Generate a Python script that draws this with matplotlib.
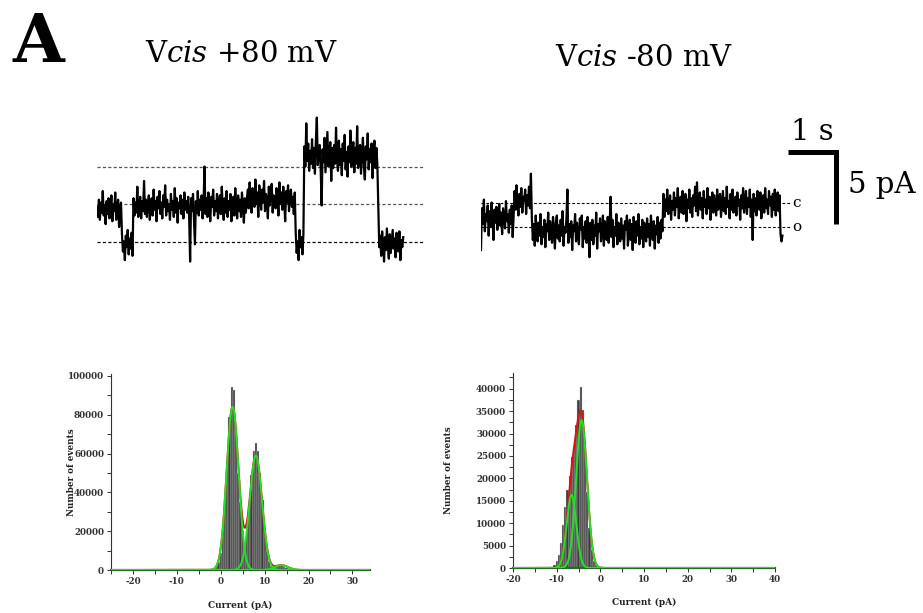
import numpy as np
import matplotlib
matplotlib.use("Agg")
import matplotlib.pyplot as plt
from matplotlib.ticker import MultipleLocator, FuncFormatter

plt.rcParams["font.family"] = "DejaVu Serif"
plt.rcParams["mathtext.fontset"] = "dejavuserif"

# ---- single channel traces (pA), sampled every DT seconds ----
DT = 0.02

TRACE_POS = [
    -0.2, -0.9, 0.3, -1.1, 0.1, -0.6, 0.9, -0.8, -0.1, -1.4,
    0.2, -0.7, 0.4, -1.0, -0.3, 0.6, -1.2, 0.0, -0.5, 0.8,
    -1.1, -0.2, 0.3, -1.6, -0.4, 0.1,
    -2.1, -3.3, -2.6, -3.9, -2.2, -3.0, -1.8, -3.5, -2.4, -3.1, -2.0, -3.6,
    0.4, -0.8, 0.1, -0.6, 1.2, -0.9, -0.1, 0.5, -1.0, 0.2,
    -0.5, 1.6, -0.7, 0.3, -0.9, 0.0, 0.6, -1.1, -0.2, 0.4,
    -0.8, 1.0, -0.4, 0.2, -1.2, 0.5, -0.3, 0.9, -0.7, 0.1,
    -1.0, 0.6, -0.2, 1.3, -0.8, 0.3, -0.5, 0.0, -1.1, 0.7,
    -0.4, 0.2, -0.9, 1.1, -0.6, 0.4, -1.3, 0.1, -0.3, 0.6,
    -0.7, 0.3, -1.0, 0.8, -0.4, 0.2, -0.6, 0.5, -0.9, -4.0,
    0.4, -0.5, 0.7, -1.1, -2.8, 0.2, -0.6, 0.9, -0.8, 0.3,
    -0.4, 0.6, -1.0, 0.1, 2.6, -0.7, 0.4, -0.9, 0.8, -0.3,
    -1.2, 0.5, -0.2, 1.0, -0.8, 0.2, -0.5, 0.7, -1.0, 0.0,
    0.6, -0.7, 1.2, -0.3, -1.1, 0.4, -0.6, 0.9, -0.9, 0.2,
    -0.4, 0.7, -1.2, 0.1, 0.5, -0.8, 1.1, -0.2, -1.0, 0.6,
    -0.5, 0.3, -0.9, 0.8, -0.1, -1.3, 0.4, -0.6, 0.2,
    1.0, -0.3, 1.5, 0.2, -0.6, 1.1, 0.4, -0.2, 1.7, 0.0,
    0.8, -0.9, 1.3, 0.5, -0.4, 1.0, 0.1, 1.6, -0.5, 0.7,
    0.3, -1.0, 1.2, -0.1, 0.9, 1.4, -0.6, 0.6, 0.2, -0.3,
    1.1, 0.4, -0.8, 1.5, 0.0, 0.8, -0.4, 1.2, 0.3, -1.2,
    0.9, 0.1, 1.3, -0.5, 0.6, 1.0, -0.2, 0.5, -0.7, 0.8,
    -2.0, -3.4, -2.6, -3.9, -1.8, -3.0, -2.3, -3.5, -2.1,
    4.0, 2.6, 5.6, 3.0, 4.2, 2.3, 3.7, 2.8, 4.5, 2.5,
    3.9, 2.1, 4.4, 6.0, 2.7, 3.5, 4.1, 2.4, -0.1, 3.8,
    2.9, 4.6, 2.2, 3.6, 5.0, 2.6, 3.3, 4.3, 1.6, 3.9,
    2.5, 4.1, 2.8, 5.3, 3.1, 2.3, 4.4, 2.7, 3.8, 2.0,
    4.2, 3.0, 4.8, 2.4, 3.6, 1.9, 4.0, 2.9, 5.1, 2.6,
    3.4, 4.3, 2.2, 3.9, 2.8, 5.4, 2.5, 3.7, 4.1, 2.1,
    3.5, 4.6, 2.7, 1.7, 4.0, 3.1, 4.9, 2.4, 3.8, 2.9,
    4.2, 1.8, 3.6, 4.4, 2.5, 3.9, 2.8,
    -0.2, -3.0, -2.2, -3.6, -1.9, -2.8, -4.0, -2.3, -3.2, -1.7,
    -2.9, -3.8, -2.1, -3.4, -2.6, -1.8, -3.1, -2.4, -3.7, -2.0,
    -2.7, -3.3, -1.9, -3.9, -2.5, -3.0, -2.3,
]
LEVELS_POS = [2.57, 0.0, -2.64]

TRACE_NEG = [
    -1.6, 1.3, 0.2, 1.9, -0.3, 0.9, 0.4, 1.5, -0.6, 1.1,
    0.0, 1.7, 0.5, -0.9, 1.2, 0.3, 1.4, -0.2, 0.8, 1.6,
    0.1, 1.0, -0.5, 1.3, 0.6, -0.1, 1.8, 0.4, 0.9, -0.4,
    1.2, 0.2, 1.5, -0.7, 0.8,
    2.5, 1.2, 2.9, 1.6, 0.8, 2.3, 1.4, 2.7, 1.0, 2.1,
    1.8, 2.6, 0.9, 2.2, 1.5, 2.8, 1.3, 3.7,
    0.6, -0.9, 0.2, -1.3, 0.8, -0.4, -1.0, 0.3, -0.6, 0.9,
    -1.2, 0.0, -0.7, 0.5, -1.4, 0.2, -0.3, 1.0, -0.9, 0.4,
    -0.5, -1.1, 0.7, -0.2, -1.5, 0.3, 0.8, -0.8, 0.1, -1.0,
    0.5, -0.6, 1.1, -1.3, 0.0, -0.4, 0.6, 2.6, -1.1, 0.2,
    -0.7, 0.4, -1.6, 0.1, -0.3, 0.9, -1.0, 0.3, -0.5, -1.2,
    0.6, -0.2, 0.8, -1.4, 0.0, -0.8, 0.4, -1.1, 0.7, -0.4,
    -2.1, 0.3, -0.9, 0.5, -1.2, 0.1, -0.6, 1.0, -1.5, 0.2,
    -0.3, 0.6, -1.0, -0.5, 0.8, -1.3, 0.4, -0.1, -0.9, 0.7,
    -1.1, 0.2, 2.1, -0.7, 0.5, -1.4, 0.0, -0.6, 0.9, -1.2,
    0.3, -0.4, -1.0, 0.6, -0.8, 0.1, -1.5, 0.4, -0.2, 0.8,
    -1.3, -0.5, 0.5, -0.9, 0.2, -1.6, 0.7, -0.3, -1.1, 0.4,
    -0.6, 0.9, -1.2, 0.0, -0.8, 0.5, -1.4, 0.3, -0.4, -1.0,
    0.6, -0.7, 0.2, -1.3, 0.8, -0.2, -0.9, 0.4, -1.5, 0.1,
    -0.5, 0.7, -1.1, 0.3, -0.8, 0.5, -0.3,
    2.3, 0.7, 1.9, 1.1, 2.6, 0.9, 1.6, 2.2, 0.5, 1.8,
    1.2, 2.4, 0.8, 2.0, 1.4, 2.7, 0.6, 1.7, 2.1, 1.0,
    2.5, 0.9, 1.5, 2.3, 0.4, 1.9, 1.3, 2.6, 1.0, 2.0,
    0.7, 2.2, 1.5, 2.8, 1.1, 3.1, 0.8, 1.8, 2.4, 1.2,
    2.0, 0.6, 2.5, 1.4, 1.9, 0.9, 2.7, 1.3, 2.1, 0.5,
    1.7, 2.4, 1.0, 2.2, 1.5, 0.8, 2.6, 1.2, 1.9, 2.3,
    0.7, 1.6, 2.5, 1.1, 2.0, 0.9, 2.8, 1.4, 1.8, 0.6,
    2.3, 1.2, 2.6, 1.0, 1.7, 2.1, 0.8, 2.4, 1.5, 1.9,
    0.5, 2.2, 1.3, 2.7, 1.0, 1.8, 2.5, 0.9, 2.0, 1.4,
    2.6, 0.7, 1.9, -0.9, 2.3, 1.1, 2.0, 0.8, 2.5, 1.6,
    1.2, 2.4, 0.6, 1.8, 2.2, 1.0, 2.7, 1.3, 1.9, 0.9,
    2.5, 1.5, 2.1, 0.7, 2.3, 1.2, 2.6, 0.8, 1.9, 2.4,
    1.1, 2.2,
    -0.5, -1.0, -0.6,
]
LEVELS_NEG = [1.67, 0.0]
LEVEL_NAMES_NEG = ["c", "o"]

SCALE_T = 1.0   # s
SCALE_I = 5.0   # pA

# ---- all-points histograms (bin centre pA, counts) ----
BIN_W = 0.5

POS_BINS = [-1.5, -1.0, -0.5, 0.0, 0.5, 1.0, 1.5, 2.0, 2.5, 3.0, 3.5, 4.0, 4.5,
            5.0, 5.5, 6.0, 6.5, 7.0, 7.5, 8.0, 8.5, 9.0, 9.5, 10.0, 10.5, 11.0,
            11.5, 12.0, 12.5, 13.0, 13.5, 14.0, 14.5, 15.0, 15.5, 16.0]
POS_COUNTS = [300, 1500, 4000, 9000, 20000, 38000, 56000, 79000, 94500, 93000,
              73000, 50000, 35000, 20000, 14000, 24000, 34000, 49000, 61500,
              65500, 61500, 50000, 36000, 20000, 10000, 4500, 2000, 1500, 2000,
              2500, 2800, 2500, 1800, 1000, 500, 300]
# gaussian fits: (mean, amplitude, sigma)
POS_FITS = [(2.7, 84200, 1.35), (8.0, 59000, 1.4), (13.8, 2500, 1.5)]

NEG_BINS = [-11.5, -11.0, -10.5, -10.0, -9.5, -9.0, -8.5, -8.0, -7.5, -7.0,
            -6.5, -6.0, -5.5, -5.0, -4.5, -4.0, -3.5, -3.0, -2.5, -2.0, -1.5,
            -1.0, -0.5, 0.0, 0.5, 1.0, 1.5]
NEG_COUNTS = [150, 300, 700, 1500, 3000, 5500, 9500, 13500, 17500, 20500,
              24800, 27000, 32000, 37500, 40300, 35200, 28000, 17000, 9000,
              4000, 1600, 600, 300, 200, 150, 100, 80]
NEG_FITS = [(-6.6, 16300, 1.1), (-4.3, 33000, 1.25)]

W, H = 923, 613
fig = plt.figure(figsize=(W / 100, H / 100), dpi=100)


def box(x0, y_top, w, h):
    return [x0 / W, 1 - (y_top + h) / H, w / W, h / H]


def gauss(x, m, a, s):
    return a * np.exp(-0.5 * ((x - m) / s) ** 2)


# header texts
fig.text(13 / W, 1 - 62 / H, "A", fontsize=48, fontweight="bold", va="baseline")
fig.text(241 / W, 1 - 62 / H, r"V$\mathit{cis}$ +80 mV", fontsize=21,
         ha="center", va="baseline")
fig.text(644 / W, 1 - 66 / H, r"V$\mathit{cis}$ -80 mV", fontsize=21,
         ha="center", va="baseline")

# trace +80 mV : 1 s = 48 px, 1 pA = 14.4 px
ax1 = fig.add_axes(box(97, 100, 327, 190))
t1 = np.arange(len(TRACE_POS)) * DT
ax1.plot(t1, TRACE_POS, color="black", lw=1.6)
for lv, c in zip(LEVELS_POS, ["#555555", "#555555", "black"]):
    ax1.plot([0, 327 / 48], [lv, lv], color=c, lw=0.9, dashes=(2.5, 1.8),
             zorder=1)
ax1.set_xlim(0, 327 / 48)
ax1.set_ylim(-86 / 14.4, 104 / 14.4)
ax1.axis("off")

# trace -80 mV
ax2 = fig.add_axes(box(481, 100, 440, 190))
t2 = np.arange(len(TRACE_NEG)) * DT
ax2.plot(t2, TRACE_NEG, color="black", lw=1.6)
for lv, name in zip(LEVELS_NEG, LEVEL_NAMES_NEG):
    ax2.plot([0, 309 / 48], [lv, lv], color="black", lw=0.8, dashes=(2.5, 1.8),
             zorder=1)
    ax2.text(311 / 48, lv, name, fontsize=11, ha="left", va="center")
ax2.set_xlim(0, 440 / 48)
ax2.set_ylim(-63 / 14.4, 127 / 14.4)
ax2.axis("off")

# scale bar
sb_x = 307 / 48
sb_y = 75 / 14.4
ax2.plot([sb_x, sb_x + SCALE_T, sb_x + SCALE_T],
         [sb_y, sb_y, sb_y - SCALE_I], color="black", lw=3.6,
         solid_joinstyle="miter", solid_capstyle="butt")
ax2.text(sb_x + SCALE_T / 2, sb_y + 0.45, f"{SCALE_T:g} s", fontsize=21,
         ha="center", va="bottom")
ax2.text(sb_x + SCALE_T + 0.25, sb_y - SCALE_I / 2 + 0.2, f"{SCALE_I:g} pA",
         fontsize=21, ha="left", va="center")


def histogram(ax, bins, counts, fits, xlim, ylim, xstep, ymaj, ymin, lab_x, ylab_x):
    ax.bar(bins, counts, width=BIN_W, color="#3c3c3c", edgecolor="#d0d0d0",
           lw=0.3, zorder=2)
    x = np.linspace(xlim[0], xlim[1], 1200)
    total = sum(gauss(x, *f) for f in fits)
    ax.plot(x, total, color="#e01010", lw=1.4, zorder=3)
    for f in fits:
        ax.plot(x, gauss(x, *f), color="#22e022", lw=1.4, zorder=4)
    ax.set_xlim(*xlim)
    ax.set_ylim(*ylim)
    ax.xaxis.set_major_locator(MultipleLocator(xstep))
    ax.xaxis.set_major_formatter(FuncFormatter(
        lambda v, p: f"{v:.0f}" if round(v) % 10 == 0 else ""))
    ax.yaxis.set_major_locator(MultipleLocator(ymaj))
    ax.yaxis.set_minor_locator(MultipleLocator(ymin))
    ax.yaxis.set_major_formatter(FuncFormatter(lambda v, p: f"{v:.0f}"))
    for s in ["top", "right"]:
        ax.spines[s].set_visible(False)
    ax.spines["left"].set_color("#333333")
    ax.spines["bottom"].set_color("#1f6f1f")
    ax.spines["left"].set_linewidth(0.8)
    ax.spines["bottom"].set_linewidth(1.6)
    ax.tick_params(axis="both", which="both", direction="out", length=3,
                   width=0.7, color="#333333", labelsize=6.3,
                   labelcolor="#333333", pad=2)
    for lab in ax.get_xticklabels() + ax.get_yticklabels():
        lab.set_fontweight("bold")
    ax.set_xlabel("Current (pA)", fontsize=6.5, fontweight="bold", color="#222222")
    ax.set_ylabel("Number of events", fontsize=6.3, fontweight="bold",
                  color="#222222")
    ax.xaxis.set_label_coords(lab_x, -0.155)
    ax.yaxis.set_label_coords(ylab_x, 0.5)


axh1 = fig.add_axes(box(111, 374, 259, 196))
histogram(axh1, POS_BINS, POS_COUNTS, POS_FITS, (-25, 34), (0, 101000),
          5, 20000, 10000, 0.5, -0.135)

axh2 = fig.add_axes(box(513, 373, 262, 195))
histogram(axh2, NEG_BINS, NEG_COUNTS, NEG_FITS, (-20, 40), (0, 43500),
          5, 5000, 2500, 0.5, -0.229)

fig.savefig("out.png", dpi=100)
